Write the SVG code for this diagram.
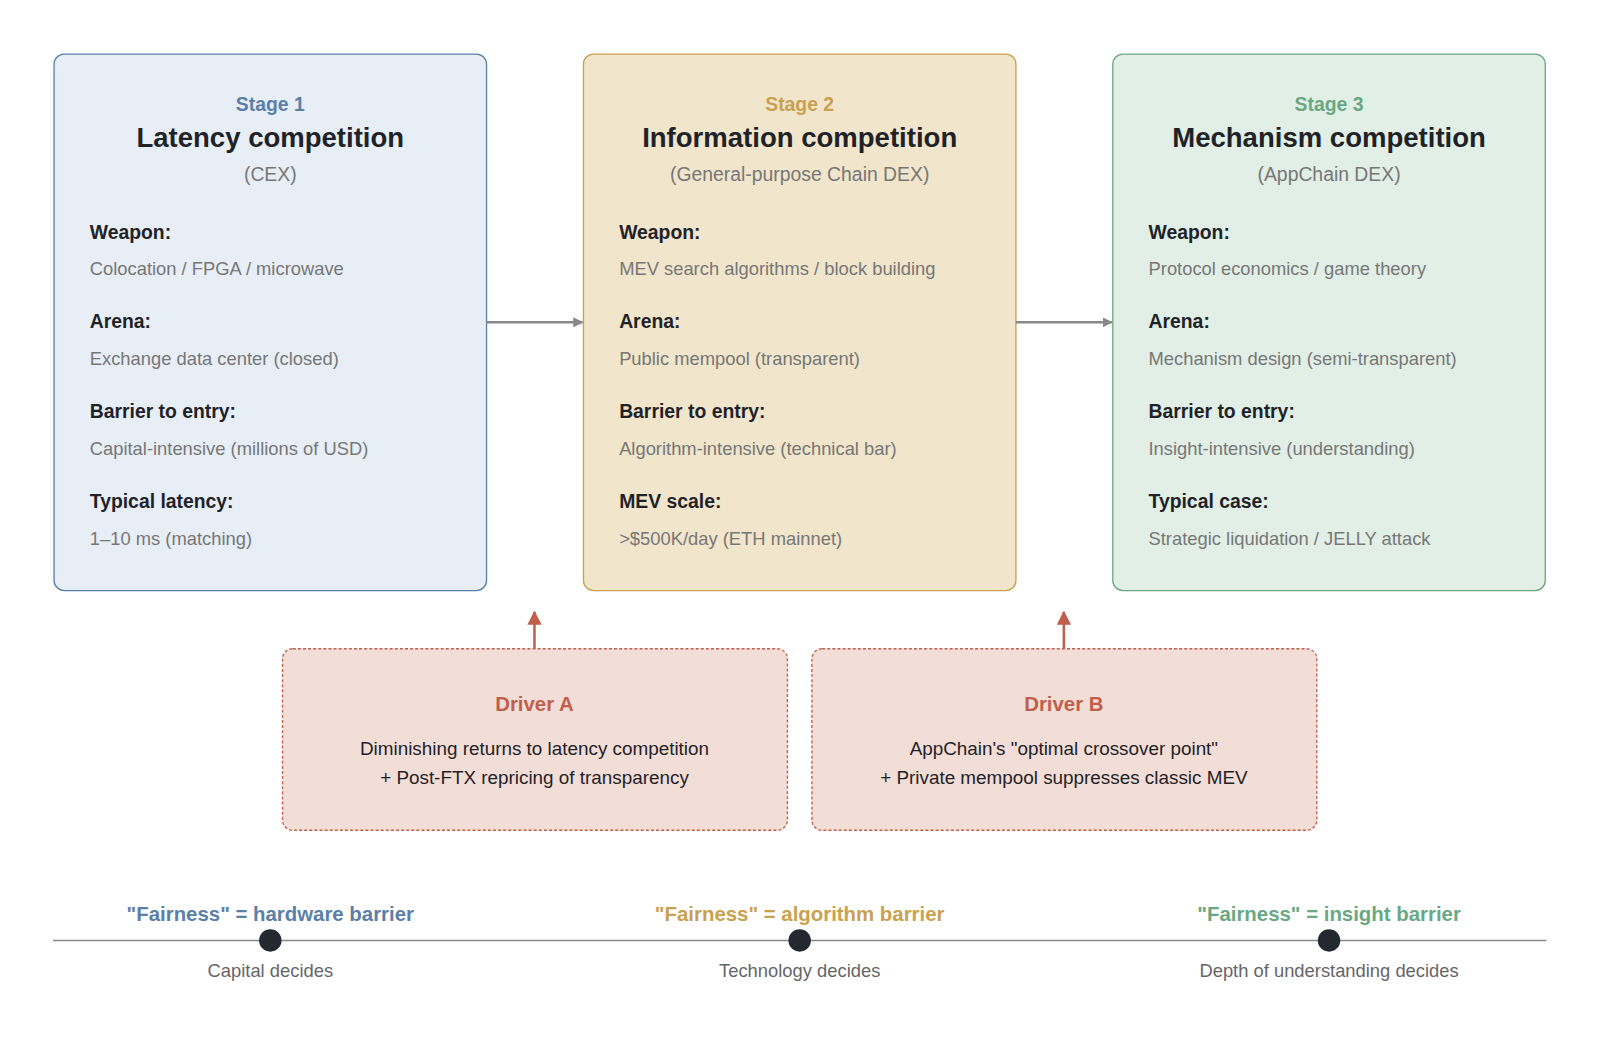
<svg xmlns="http://www.w3.org/2000/svg" width="1600" height="1039" viewBox="0 0 1600 1039">
<style>
text{font-family:"Liberation Sans",Arial,sans-serif}
.c{text-anchor:middle}
.st{font-size:19px;font-weight:bold}
.ti{font-size:27px;font-weight:bold;fill:#1f2328}
.sub{font-size:19px;fill:#777}
.lb{font-size:19px;font-weight:bold;fill:#1f2328}
.v{font-size:18px;fill:#777}
.dt{font-size:20px;font-weight:bold;fill:#c0604c}
.db{font-size:18.5px;fill:#1f2328}
.ft{font-size:20px;font-weight:bold}
.tl{font-size:18px;fill:#666}
</style>
<defs>
<marker id="ag" markerWidth="10" markerHeight="10" refX="9" refY="5" orient="auto" markerUnits="userSpaceOnUse" viewBox="0 0 10 10"><path d="M0,0L10,5L0,10z" fill="#888"/></marker>
<marker id="ar" markerWidth="14" markerHeight="14" refX="9" refY="5" orient="auto" markerUnits="userSpaceOnUse" viewBox="0 0 10 10"><path d="M0,0L10,5L0,10z" fill="#c0604c"/></marker>
</defs>
<rect width="1600" height="1039" fill="#fff"/>
<g transform="scale(1.02)">
<g id="stage1">
<rect x="53" y="53" width="424" height="526" rx="10" fill="#e7eef6" stroke="#5b80a8" stroke-width="1.3"/>
<text class="c st" x="265" y="109" fill="#5b80a8">Stage 1</text>
<text class="c ti" x="265" y="144">Latency competition</text>
<text class="c sub" x="265" y="177">(CEX)</text>
<text class="lb" x="88" y="234">Weapon:</text><text class="v" x="88" y="270">Colocation / FPGA / microwave</text>
<text class="lb" x="88" y="322">Arena:</text><text class="v" x="88" y="358">Exchange data center (closed)</text>
<text class="lb" x="88" y="410">Barrier to entry:</text><text class="v" x="88" y="446">Capital-intensive (millions of USD)</text>
<text class="lb" x="88" y="498">Typical latency:</text><text class="v" x="88" y="534">1–10 ms (matching)</text>
</g>
<g id="stage2">
<rect x="572" y="53" width="424" height="526" rx="10" fill="#f1e5cc" stroke="#c9a14f" stroke-width="1.3"/>
<text class="c st" x="784" y="109" fill="#c9a14f">Stage 2</text>
<text class="c ti" x="784" y="144">Information competition</text>
<text class="c sub" x="784" y="177">(General-purpose Chain DEX)</text>
<text class="lb" x="607" y="234">Weapon:</text><text class="v" x="607" y="270">MEV search algorithms / block building</text>
<text class="lb" x="607" y="322">Arena:</text><text class="v" x="607" y="358">Public mempool (transparent)</text>
<text class="lb" x="607" y="410">Barrier to entry:</text><text class="v" x="607" y="446">Algorithm-intensive (technical bar)</text>
<text class="lb" x="607" y="498">MEV scale:</text><text class="v" x="607" y="534">&gt;$500K/day (ETH mainnet)</text>
</g>
<g id="stage3">
<rect x="1091" y="53" width="424" height="526" rx="10" fill="#e2efe6" stroke="#6aa883" stroke-width="1.3"/>
<text class="c st" x="1303" y="109" fill="#6aa883">Stage 3</text>
<text class="c ti" x="1303" y="144">Mechanism competition</text>
<text class="c sub" x="1303" y="177">(AppChain DEX)</text>
<text class="lb" x="1126" y="234">Weapon:</text><text class="v" x="1126" y="270">Protocol economics / game theory</text>
<text class="lb" x="1126" y="322">Arena:</text><text class="v" x="1126" y="358">Mechanism design (semi-transparent)</text>
<text class="lb" x="1126" y="410">Barrier to entry:</text><text class="v" x="1126" y="446">Insight-intensive (understanding)</text>
<text class="lb" x="1126" y="498">Typical case:</text><text class="v" x="1126" y="534">Strategic liquidation / JELLY attack</text>
</g>
<g id="driverA">
<rect x="277" y="636" width="495" height="178" rx="10" fill="#f3ddd7" stroke="#c0604c" stroke-width="1.3" stroke-dasharray="3,2"/>
<text class="c dt" x="524" y="697">Driver A</text>
<text class="c db" x="524" y="740">Diminishing returns to latency competition</text>
<text class="c db" x="524" y="769">+ Post-FTX repricing of transparency</text>
</g>
<g id="driverB">
<rect x="796" y="636" width="495" height="178" rx="10" fill="#f3ddd7" stroke="#c0604c" stroke-width="1.3" stroke-dasharray="3,2"/>
<text class="c dt" x="1043" y="697">Driver B</text>
<text class="c db" x="1043" y="740">AppChain's "optimal crossover point"</text>
<text class="c db" x="1043" y="769">+ Private mempool suppresses classic MEV</text>
</g>
<g id="connectors">
<line x1="477" y1="316" x2="571" y2="316" stroke="#888" stroke-width="2.5" marker-end="url(#ag)"/>
<line x1="996" y1="316" x2="1090" y2="316" stroke="#888" stroke-width="2.5" marker-end="url(#ag)"/>
<line x1="524" y1="636" x2="524" y2="600" stroke="#c0604c" stroke-width="2.5" marker-end="url(#ar)"/>
<line x1="1043" y1="636" x2="1043" y2="600" stroke="#c0604c" stroke-width="2.5" marker-end="url(#ar)"/>
</g>
<g id="timeline">
<line x1="52" y1="922" x2="1516" y2="922" stroke="#888" stroke-width="1.5"/>
<circle cx="265" cy="922" r="11" fill="#24292f"/>
<circle cx="784" cy="922" r="11" fill="#24292f"/>
<circle cx="1303" cy="922" r="11" fill="#24292f"/>
<text class="c ft" x="265" y="903" fill="#5b80a8">"Fairness" = hardware barrier</text>
<text class="c ft" x="784" y="903" fill="#c9a14f">"Fairness" = algorithm barrier</text>
<text class="c ft" x="1303" y="903" fill="#6aa883">"Fairness" = insight barrier</text>
<text class="c tl" x="265" y="958">Capital decides</text>
<text class="c tl" x="784" y="958">Technology decides</text>
<text class="c tl" x="1303" y="958">Depth of understanding decides</text>
</g>
</g>
</svg>
